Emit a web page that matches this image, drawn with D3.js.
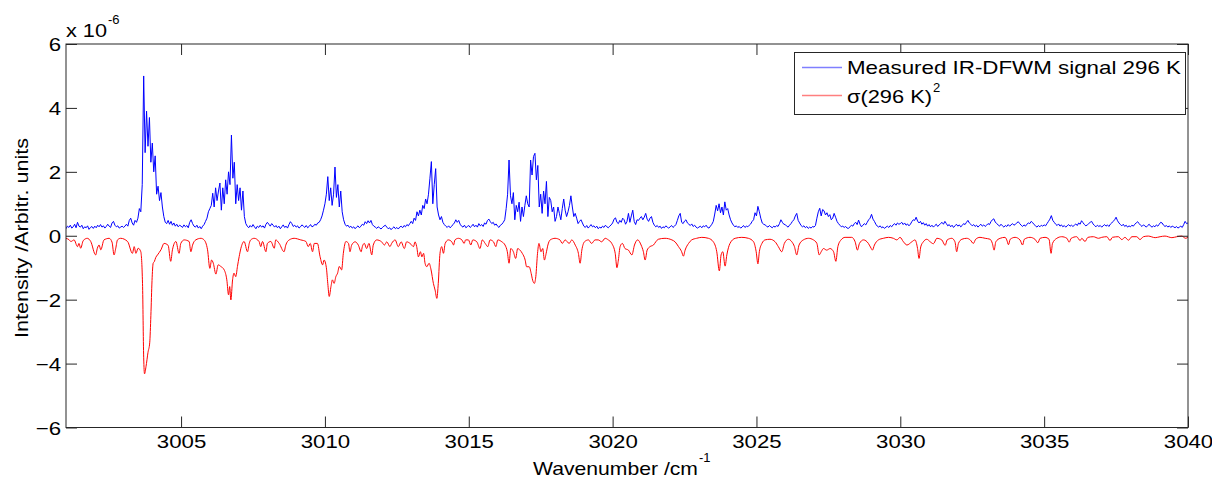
<!DOCTYPE html>
<html><head><meta charset="utf-8">
<script src="https://cdn.jsdelivr.net/npm/d3@7"></script>
<style>
body{margin:0;background:#fff}
svg{display:block}
text{font-family:"Liberation Sans",Arial,Helvetica,sans-serif;fill:#000}
</style>
</head><body>
<svg id="chart" width="1212" height="482"></svg>
<script>
// ---------------- data ----------------
const xTickValues = [3005, 3010, 3015, 3020, 3025, 3030, 3035, 3040];
const yTickValues = [-6, -4, -2, 0, 2, 4, 6];
const xDomain = [3001, 3040];
const yDomain = [-6, 6];
const seriesNames = ["Measured IR-DFWM signal 296 K", "\u03c3(296 K)"];

// measured signal (x 1e-6), one row per wavenumber, sampled every 0.05 cm-1
const blueRowStart = 3001;
const blueStep = 0.05;
const blueRows = [
 [0.22,0.30,0.26,0.33,0.24,0.28,0.36,0.25,0.42,0.30,0.27,0.33,0.22,0.28,0.25,0.31,0.20,0.26,0.29,0.23],
 [0.30,0.25,0.33,0.28,0.35,0.27,0.31,0.24,0.29,0.36,0.30,0.26,0.40,0.45,0.33,0.28,0.31,0.24,0.27,0.30],
 [0.26,0.30,0.36,0.30,0.48,0.55,0.40,0.33,0.48,0.42,0.55,0.85,0.75,1.6,5.0,2.6,3.9,2.8,3.7,2.3],
 [2.9,2.0,2.5,1.3,1.55,1.1,1.35,0.9,0.6,0.42,0.38,0.48,0.36,0.45,0.33,0.40,0.30,0.36,0.28,0.33],
 [0.30,0.26,0.34,0.28,0.32,0.25,0.42,0.50,0.38,0.30,0.27,0.33,0.24,0.29,0.22,0.30,0.35,0.45,0.55,0.75],
 [0.85,0.95,1.33,0.9,1.5,1.1,1.4,1.65,0.8,1.5,1.0,1.75,1.3,2.0,1.6,3.15,1.8,2.3,1.0,1.6],
 [1.1,1.5,0.8,1.4,0.6,0.38,0.30,0.25,0.32,0.27,0.35,0.28,0.22,0.30,0.26,0.33,0.27,0.31,0.24,0.36],
 [0.42,0.36,0.30,0.38,0.33,0.27,0.32,0.25,0.30,0.22,0.28,0.34,0.26,0.30,0.24,0.35,0.44,0.38,0.29,0.33],
 [0.27,0.31,0.24,0.28,0.34,0.30,0.26,0.32,0.25,0.29,0.35,0.28,0.30,0.36,0.33,0.40,0.42,0.50,0.62,0.80],
 [1.0,1.3,1.85,1.1,1.5,0.95,1.3,2.15,1.2,1.6,0.9,1.4,0.75,0.5,0.36,0.30,0.33,0.26,0.30,0.24],
 [0.28,0.22,0.27,0.31,0.25,0.30,0.36,0.33,0.44,0.38,0.47,0.40,0.48,0.35,0.30,0.27,0.23,0.28,0.25,0.21],
 [0.26,0.30,0.33,0.27,0.22,0.25,0.19,0.24,0.28,0.22,0.26,0.21,0.27,0.30,0.25,0.32,0.28,0.35,0.31,0.38],
 [0.45,0.38,0.55,0.48,0.75,0.62,0.80,0.65,0.95,0.85,1.15,1.0,1.3,1.8,2.32,1.0,1.6,2.1,0.9,0.65],
 [0.5,0.6,0.42,0.35,0.30,0.26,0.31,0.25,0.29,0.35,0.40,0.50,0.42,0.48,0.36,0.30,0.27,0.33,0.25,0.29],
 [0.32,0.26,0.30,0.36,0.28,0.33,0.27,0.38,0.31,0.35,0.29,0.40,0.36,0.48,0.52,0.44,0.38,0.42,0.33,0.37],
 [0.30,0.26,0.33,0.36,0.42,0.5,0.85,1.3,2.37,1.25,1.0,1.35,0.5,0.95,0.75,1.05,0.45,0.9,0.6,0.95],
 [1.25,1.0,0.9,2.37,1.9,2.48,2.58,1.75,2.2,0.9,1.3,0.7,1.4,1.0,1.7,0.6,1.2,1.1,0.75,0.9],
 [0.45,0.6,0.9,0.7,0.5,0.85,1.15,0.8,0.6,0.75,0.95,1.25,0.9,0.6,0.7,0.55,0.38,0.45,0.50,0.40],
 [0.30,0.26,0.32,0.24,0.29,0.35,0.28,0.31,0.25,0.30,0.22,0.27,0.24,0.30,0.26,0.33,0.28,0.25,0.30,0.34],
 [0.40,0.52,0.56,0.42,0.38,0.48,0.42,0.55,0.50,0.36,0.45,0.70,0.42,0.62,0.80,0.45,0.35,0.50,0.48,0.55],
 [0.60,0.50,0.58,0.70,0.52,0.45,0.55,0.60,0.42,0.33,0.28,0.32,0.26,0.30,0.23,0.28,0.25,0.31,0.27,0.24],
 [0.28,0.32,0.26,0.30,0.35,0.48,0.62,0.70,0.42,0.38,0.46,0.50,0.40,0.36,0.32,0.37,0.29,0.33,0.27,0.24],
 [0.27,0.30,0.25,0.31,0.28,0.33,0.26,0.24,0.30,0.36,0.45,0.68,0.95,0.78,1.0,0.72,0.90,0.65,1.06,0.80],
 [0.85,0.65,0.50,0.40,0.33,0.28,0.31,0.26,0.29,0.24,0.27,0.32,0.26,0.30,0.28,0.33,0.37,0.45,0.50,0.72],
 [0.62,0.92,0.75,0.55,0.40,0.36,0.34,0.30,0.27,0.32,0.28,0.25,0.30,0.27,0.32,0.29,0.38,0.50,0.42,0.36],
 [0.35,0.30,0.27,0.33,0.38,0.45,0.50,0.62,0.70,0.48,0.40,0.32,0.28,0.31,0.25,0.29,0.23,0.27,0.24,0.29],
 [0.27,0.32,0.55,0.75,0.86,0.62,0.82,0.78,0.65,0.72,0.60,0.66,0.50,0.55,0.70,0.58,0.45,0.38,0.33,0.28],
 [0.30,0.26,0.29,0.24,0.23,0.28,0.33,0.30,0.38,0.42,0.35,0.49,0.36,0.28,0.33,0.38,0.34,0.42,0.50,0.55],
 [0.67,0.52,0.45,0.36,0.30,0.27,0.31,0.25,0.28,0.23,0.27,0.30,0.26,0.32,0.28,0.34,0.38,0.33,0.40,0.36],
 [0.38,0.42,0.35,0.40,0.33,0.37,0.31,0.36,0.44,0.50,0.48,0.58,0.46,0.40,0.45,0.36,0.41,0.33,0.38,0.30],
 [0.35,0.28,0.33,0.27,0.32,0.36,0.29,0.34,0.38,0.42,0.36,0.45,0.38,0.31,0.35,0.28,0.33,0.26,0.31,0.36],
 [0.30,0.34,0.28,0.32,0.38,0.35,0.42,0.48,0.40,0.36,0.31,0.35,0.29,0.33,0.27,0.32,0.36,0.30,0.34,0.29],
 [0.33,0.38,0.35,0.44,0.50,0.53,0.43,0.38,0.34,0.30,0.36,0.31,0.27,0.32,0.29,0.35,0.30,0.34,0.38,0.33],
 [0.36,0.40,0.44,0.38,0.33,0.29,0.34,0.30,0.36,0.40,0.38,0.45,0.41,0.35,0.31,0.27,0.32,0.28,0.33,0.30],
 [0.34,0.31,0.38,0.45,0.52,0.63,0.48,0.42,0.36,0.32,0.37,0.30,0.34,0.28,0.32,0.27,0.31,0.35,0.30,0.33],
 [0.29,0.33,0.37,0.32,0.40,0.36,0.47,0.41,0.35,0.31,0.34,0.38,0.42,0.45,0.37,0.32,0.28,0.33,0.29,0.32],
 [0.27,0.31,0.35,0.30,0.34,0.29,0.36,0.40,0.45,0.50,0.58,0.47,0.40,0.35,0.31,0.36,0.29,0.33,0.27,0.31],
 [0.28,0.33,0.30,0.36,0.40,0.44,0.38,0.33,0.29,0.34,0.31,0.27,0.32,0.36,0.30,0.27,0.31,0.28,0.34,0.30],
 [0.36,0.42,0.40,0.33,0.29,0.32,0.27,0.31,0.26,0.30,0.28,0.25,0.29,0.24,0.27,0.30,0.26,0.35,0.45,0.38],
 [0.40]
];

// sigma(296 K)^2 (plotted negative, x 1e-6): [wavenumber, value]
const redPoints = [
 [3001.0,-0.08],[3001.1,-0.12],[3001.17,-0.18],[3001.28,-0.13],[3001.4,-0.34],[3001.45,-0.24],[3001.51,-0.39],[3001.6,-0.15],[3001.74,-0.08],[3001.86,-0.18],
 [3002.03,-0.6],[3002.09,-0.39],[3002.15,-0.29],[3002.21,-0.44],[3002.32,-0.13],[3002.5,-0.08],[3002.6,-0.2],[3002.67,-0.6],[3002.73,-0.39],[3002.79,-0.13],
 [3002.9,-0.08],[3003.14,-0.18],[3003.31,-0.55],[3003.37,-0.34],[3003.43,-0.55],[3003.51,-0.39],[3003.6,-0.5],[3003.66,-1.5],[3003.70,-3.8],[3003.73,-4.32],
 [3003.78,-4.1],[3003.85,-3.65],[3003.91,-3.35],[3003.95,-2.5],[3003.99,-1.4],[3004.03,-0.86],[3004.07,-0.81],[3004.12,-0.68],[3004.18,-0.6],[3004.3,-0.44],
 [3004.41,-0.24],[3004.55,-0.3],[3004.64,-0.8],[3004.7,-0.44],[3004.82,-0.18],[3004.93,-0.55],[3004.99,-0.24],[3005.11,-0.13],[3005.28,-0.18],[3005.34,-0.5],
 [3005.4,-0.29],[3005.51,-0.13],[3005.69,-0.08],[3005.8,-0.13],[3005.92,-0.44],[3006.0,-1.02],[3006.06,-0.76],[3006.12,-0.86],[3006.21,-1.2],[3006.29,-0.91],
 [3006.38,-0.96],[3006.5,-1.07],[3006.59,-1.38],[3006.65,-1.85],[3006.69,-1.59],[3006.73,-2.01],[3006.79,-1.38],[3006.84,-1.17],[3006.9,-1.28],[3006.96,-0.96],
 [3007.02,-0.65],[3007.08,-0.39],[3007.19,-0.18],[3007.31,-0.5],[3007.37,-0.24],[3007.42,-0.13],[3007.54,-0.08],[3007.71,-0.18],[3007.77,-0.34],[3007.83,-0.18],
 [3007.95,-0.5],[3008.0,-0.24],[3008.12,-0.18],[3008.24,-0.39],[3008.29,-0.13],[3008.41,-0.24],[3008.58,-0.5],[3008.64,-0.29],[3008.76,-0.13],[3008.93,-0.08],
 [3009.16,-0.13],[3009.34,-0.18],[3009.42,-0.34],[3009.49,-0.24],[3009.57,-0.5],[3009.63,-0.24],[3009.74,-0.24],[3009.83,-0.65],[3009.92,-0.91],[3009.97,-0.76],
 [3010.05,-1.0],[3010.1,-1.5],[3010.15,-1.9],[3010.21,-1.59],[3010.26,-1.38],[3010.32,-1.49],[3010.38,-1.28],[3010.44,-1.17],[3010.5,-0.96],[3010.58,-1.07],
 [3010.64,-0.55],[3010.73,-0.18],[3010.82,-0.24],[3010.87,-0.5],[3010.93,-0.29],[3011.05,-0.19],[3011.16,-0.29],[3011.26,-0.5],[3011.3,-0.34],[3011.37,-0.24],
 [3011.45,-0.4],[3011.53,-0.24],[3011.63,-0.6],[3011.68,-0.29],[3011.8,-0.13],[3011.97,-0.19],[3012.07,-0.29],[3012.15,-0.19],[3012.26,-0.34],[3012.32,-0.24],
 [3012.44,-0.13],[3012.55,-0.34],[3012.65,-0.19],[3012.76,-0.4],[3012.84,-0.19],[3012.96,-0.24],[3013.08,-0.34],[3013.13,-0.19],[3013.19,-0.34],[3013.25,-0.66],
 [3013.32,-0.5],[3013.37,-0.66],[3013.43,-0.55],[3013.48,-0.86],[3013.54,-0.97],[3013.62,-0.86],[3013.69,-1.07],[3013.77,-1.49],[3013.83,-1.7],[3013.89,-1.96],
 [3013.94,-1.49],[3014.0,-0.55],[3014.06,-0.34],[3014.12,-0.55],[3014.18,-0.24],[3014.29,-0.13],[3014.41,-0.19],[3014.47,-0.29],[3014.52,-0.13],[3014.64,-0.08],
 [3014.76,-0.13],[3014.84,-0.24],[3014.89,-0.13],[3014.99,-0.13],[3015.07,-0.29],[3015.14,-0.13],[3015.28,-0.19],[3015.39,-0.4],[3015.47,-0.13],[3015.57,-0.24],
 [3015.66,-0.34],[3015.74,-0.13],[3015.86,-0.19],[3015.94,-0.34],[3016.01,-0.13],[3016.15,-0.19],[3016.26,-0.29],[3016.34,-0.5],[3016.4,-0.86],[3016.46,-0.4],
 [3016.55,-0.5],[3016.63,-0.71],[3016.7,-0.4],[3016.78,-0.45],[3016.86,-0.55],[3016.96,-0.76],[3017.01,-0.97],[3017.1,-0.97],[3017.17,-1.18],[3017.22,-1.39],
 [3017.28,-1.49],[3017.33,-1.28],[3017.39,-0.55],[3017.44,-0.24],[3017.51,-0.5],[3017.57,-0.4],[3017.63,-0.76],[3017.69,-0.55],[3017.75,-0.29],[3017.83,-0.13],
 [3018.0,-0.08],[3018.17,-0.13],[3018.25,-0.24],[3018.35,-0.13],[3018.49,-0.24],[3018.58,-0.13],[3018.7,-0.29],[3018.81,-0.55],[3018.87,-0.86],[3018.93,-0.45],
 [3019.02,-0.19],[3019.16,-0.13],[3019.27,-0.24],[3019.39,-0.13],[3019.5,-0.13],[3019.62,-0.19],[3019.74,-0.08],[3019.85,-0.13],[3019.97,-0.24],[3020.09,-0.55],
 [3020.15,-1.0],[3020.2,-0.76],[3020.26,-0.34],[3020.34,-0.24],[3020.43,-0.4],[3020.55,-0.45],[3020.67,-0.6],[3020.76,-0.29],[3020.87,-0.13],[3020.99,-0.29],
 [3021.07,-0.5],[3021.13,-0.76],[3021.2,-0.45],[3021.3,-0.34],[3021.42,-0.29],[3021.5,-0.19],[3021.59,-0.11],[3021.82,-0.08],[3022.06,-0.13],[3022.17,-0.19],
 [3022.29,-0.34],[3022.4,-0.5],[3022.46,-0.64],[3022.52,-0.45],[3022.64,-0.24],[3022.75,-0.13],[3022.92,-0.08],[3023.1,-0.05],[3023.33,-0.08],[3023.5,-0.19],
 [3023.62,-0.5],[3023.71,-1.1],[3023.77,-0.6],[3023.83,-0.5],[3023.91,-0.95],[3023.97,-0.6],[3024.08,-0.24],[3024.26,-0.08],[3024.49,-0.05],[3024.72,-0.08],
 [3024.9,-0.19],[3024.99,-0.5],[3025.05,-0.88],[3025.1,-0.5],[3025.19,-0.24],[3025.3,-0.13],[3025.47,-0.11],[3025.65,-0.19],[3025.76,-0.34],[3025.88,-0.5],
 [3025.97,-0.24],[3026.11,-0.11],[3026.23,-0.19],[3026.32,-0.34],[3026.4,-0.6],[3026.48,-0.29],[3026.63,-0.13],[3026.81,-0.08],[3026.98,-0.13],[3027.1,-0.24],
 [3027.18,-0.6],[3027.25,-0.5],[3027.33,-0.4],[3027.44,-0.45],[3027.56,-0.4],[3027.68,-0.5],[3027.76,-0.8],[3027.83,-0.34],[3027.94,-0.13],[3028.08,-0.05],
 [3028.31,-0.05],[3028.43,-0.19],[3028.51,-0.45],[3028.58,-0.24],[3028.72,-0.13],[3028.89,-0.24],[3028.99,-0.4],[3029.03,-0.45],[3029.1,-0.29],[3029.24,-0.13],
 [3029.41,-0.08],[3029.59,-0.05],[3029.76,-0.08],[3029.88,-0.13],[3029.99,-0.05],[3030.11,-0.19],[3030.23,-0.29],[3030.4,-0.19],[3030.51,-0.13],[3030.6,-0.4],
 [3030.65,-0.71],[3030.71,-0.35],[3030.8,-0.19],[3030.92,-0.11],[3031.04,-0.19],[3031.15,-0.25],[3031.27,-0.08],[3031.44,-0.13],[3031.56,-0.3],[3031.63,-0.13],
 [3031.79,-0.08],[3031.9,-0.19],[3031.96,-0.5],[3032.02,-0.24],[3032.14,-0.11],[3032.31,-0.08],[3032.43,-0.13],[3032.54,-0.24],[3032.62,-0.11],[3032.77,-0.05],
 [3032.95,-0.08],[3033.12,-0.11],[3033.2,-0.24],[3033.26,-0.45],[3033.32,-0.19],[3033.47,-0.08],[3033.64,-0.05],[3033.7,-0.13],[3033.76,-0.28],[3033.82,-0.11],
 [3033.99,-0.05],[3034.16,-0.13],[3034.25,-0.29],[3034.31,-0.11],[3034.51,-0.05],[3034.68,-0.11],[3034.78,-0.22],[3034.86,-0.08],[3035.03,-0.05],[3035.17,-0.11],
 [3035.24,-0.55],[3035.29,-0.24],[3035.44,-0.08],[3035.61,-0.03],[3035.79,-0.08],[3035.87,-0.2],[3035.94,-0.08],[3036.13,-0.03],[3036.25,-0.15],[3036.31,-0.08],
 [3036.42,-0.18],[3036.52,-0.05],[3036.71,-0.03],[3036.89,-0.08],[3037.0,-0.05],[3037.18,-0.03],[3037.29,-0.15],[3037.37,-0.05],[3037.58,-0.03],[3037.7,-0.12],
 [3037.81,-0.05],[3037.93,-0.14],[3038.05,-0.03],[3038.22,-0.03],[3038.33,-0.12],[3038.45,-0.03],[3038.62,-0.01],[3038.86,-0.06],[3039.03,-0.03],[3039.2,-0.01],
 [3039.44,-0.06],[3039.61,-0.03],[3039.78,-0.01],[3039.92,-0.08],[3040.0,-0.04]
];

// ---------------- drawing ----------------
const svg = d3.select("#chart");
const W = 1212, H = 482;
const plot = {left: 66, right: 1188, top: 44, bottom: 427.5};
const x = d3.scaleLinear().domain(xDomain).range([plot.left, plot.right]);
const y = d3.scaleLinear().domain(yDomain).range([plot.bottom, plot.top]);
const K = 1.17; // horizontal glyph stretch
const axisColor = "#262626";

function stretch(sel, target) {
  sel.each(function() {
    const w = this.getComputedTextLength();
    this.setAttribute("textLength", target != null ? target : w * K);
    this.setAttribute("lengthAdjust", "spacingAndGlyphs");
  });
}

svg.append("rect").attr("width", W).attr("height", H).attr("fill", "#fff");

svg.append("defs").append("clipPath").attr("id", "clip")
  .append("rect").attr("x", plot.left).attr("y", plot.top)
  .attr("width", plot.right - plot.left).attr("height", plot.bottom - plot.top);

// flatten measured rows
const blueData = [];
blueRows.forEach((row, i) => row.forEach((v, j) => blueData.push([blueRowStart + i + j * blueStep, v])));

const line = d3.line().x(d => x(d[0])).y(d => y(d[1]));
const g = svg.append("g").attr("clip-path", "url(#clip)");
g.append("path").datum(blueData).attr("d", line)
  .attr("fill", "none").attr("stroke", "#0000ff").attr("stroke-width", 1);
g.append("path").datum(redPoints).attr("d", line.curve(d3.curveMonotoneX))
  .attr("fill", "none").attr("stroke", "#ff0000").attr("stroke-width", 1);

// axes (ticks inward, mirrored)
const tl = 11;
const fmtY = d3.format("d");
const gx = svg.append("g").attr("transform", `translate(0,${plot.bottom})`)
  .call(d3.axisBottom(x).tickValues(xTickValues).tickSize(-tl).tickSizeOuter(0).tickFormat(d3.format("d")));
const gxt = svg.append("g").attr("transform", `translate(0,${plot.top})`)
  .call(d3.axisTop(x).tickValues(xTickValues).tickSize(-tl).tickSizeOuter(0).tickFormat(""));
const gy = svg.append("g").attr("transform", `translate(${plot.left},0)`)
  .call(d3.axisLeft(y).tickValues(yTickValues).tickSize(-tl).tickSizeOuter(0).tickFormat(fmtY));
const gyr = svg.append("g").attr("transform", `translate(${plot.right},0)`)
  .call(d3.axisRight(y).tickValues(yTickValues).tickSize(-tl).tickSizeOuter(0).tickFormat(""));

[gx, gxt, gy, gyr].forEach(a => {
  a.select(".domain").remove();
  a.selectAll(".tick line").attr("stroke", axisColor).attr("stroke-width", 1);
  a.selectAll("text").attr("font-family", null).attr("font-size", 19).attr("fill", "#000");
});
gx.selectAll(".tick text").attr("y", 20).attr("dy", 0);
gy.selectAll(".tick text").attr("x", -5).attr("dy", "0.35em");
stretch(gx.selectAll(".tick text"));
stretch(gy.selectAll(".tick text"));

// frame
svg.append("rect").attr("x", plot.left).attr("y", plot.top)
  .attr("width", plot.right - plot.left).attr("height", plot.bottom - plot.top)
  .attr("fill", "none").attr("stroke", axisColor).attr("stroke-width", 1);

// exponent label
const ex = svg.append("text").attr("x", 66).attr("y", 37).attr("font-size", 19).text("x 10");
stretch(ex, 41);
svg.append("text").attr("x", 108).attr("y", 24).attr("font-size", 13).text("-6");

// x axis label
const xl = svg.append("text").attr("x", 533).attr("y", 475).attr("font-size", 19).text("Wavenumber /cm");
stretch(xl, 165);
svg.append("text").attr("x", 699).attr("y", 462).attr("font-size", 13).text("-1");

// y axis label
const yl = svg.append("text").attr("transform", "translate(28,238) rotate(-90)")
  .attr("text-anchor", "middle").attr("font-size", 19).text("Intensity /Arbitr. units");
stretch(yl, 200);

// legend
const lg = svg.append("g");
lg.append("rect").attr("x", 794.5).attr("y", 52.5).attr("width", 391).attr("height", 62)
  .attr("fill", "#fff").attr("stroke", axisColor).attr("stroke-width", 1);
lg.append("line").attr("x1", 802).attr("x2", 842).attr("y1", 67.5).attr("y2", 67.5)
  .attr("stroke", "#0000ff").attr("stroke-opacity", 0.5).attr("stroke-width", 1.5);
lg.append("line").attr("x1", 802).attr("x2", 842).attr("y1", 95.5).attr("y2", 95.5)
  .attr("stroke", "#ff0000").attr("stroke-opacity", 0.5).attr("stroke-width", 1.5);
const t1 = lg.append("text").attr("x", 847).attr("y", 73.5).attr("font-size", 19).text(seriesNames[0]);
stretch(t1, 334);
const t2 = lg.append("text").attr("x", 847).attr("y", 102.5).attr("font-size", 19).text(seriesNames[1]);
stretch(t2, 85);
lg.append("text").attr("x", 933).attr("y", 92).attr("font-size", 13).text("2");
</script>
</body></html>
